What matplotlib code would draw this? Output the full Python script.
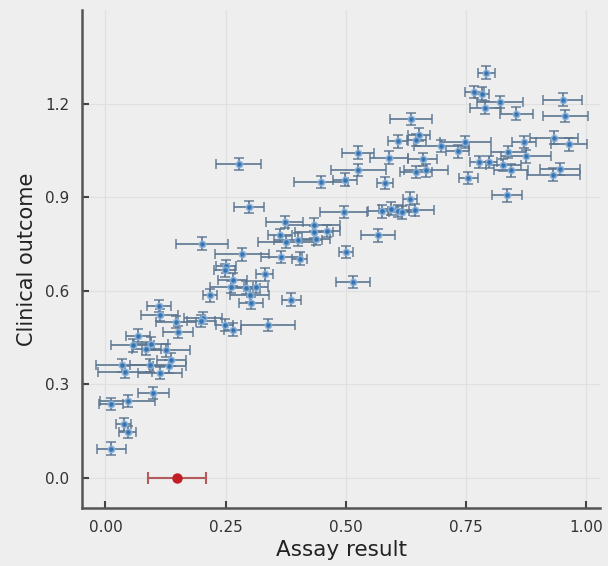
import matplotlib.pyplot as plt

# assay result (x), clinical outcome (y), horizontal / vertical uncertainty
assay = [0.792, 0.767, 0.783, 0.821, 0.790, 0.855, 0.951, 0.957, 0.749, 0.934,
         0.964, 0.870, 0.699, 0.733, 0.838, 0.875, 0.778, 0.797, 0.828, 0.843,
         0.946, 0.932, 0.755, 0.835, 0.635, 0.652, 0.647, 0.608, 0.526, 0.590,
         0.660, 0.526, 0.646, 0.667, 0.499, 0.449, 0.581, 0.633, 0.496, 0.576,
         0.595, 0.609, 0.617, 0.644, 0.567, 0.500, 0.299, 0.277, 0.373, 0.433,
         0.460, 0.434, 0.363, 0.401, 0.438, 0.375, 0.200, 0.284, 0.366, 0.404,
         0.331, 0.251, 0.248, 0.265, 0.292, 0.314, 0.262, 0.300, 0.303, 0.387,
         0.515, 0.217, 0.111, 0.113, 0.147, 0.203, 0.199, 0.248, 0.265, 0.338,
         0.151, 0.067, 0.057, 0.085, 0.095, 0.126, 0.137, 0.035, 0.040, 0.092,
         0.133, 0.113, 0.100, 0.012, 0.046, 0.038, 0.046, 0.012]
outcome = [1.300, 1.238, 1.232, 1.205, 1.187, 1.168, 1.213, 1.160, 1.077, 1.091,
           1.069, 1.077, 1.064, 1.047, 1.045, 1.031, 1.013, 1.013, 1.004, 0.986,
           0.991, 0.972, 0.961, 0.906, 1.150, 1.101, 1.084, 1.079, 1.043, 1.027,
           1.021, 0.988, 0.980, 0.986, 0.956, 0.948, 0.945, 0.895, 0.852, 0.854,
           0.863, 0.855, 0.851, 0.858, 0.777, 0.724, 0.868, 1.007, 0.820, 0.812,
           0.791, 0.788, 0.777, 0.764, 0.767, 0.756, 0.751, 0.716, 0.708, 0.703,
           0.652, 0.678, 0.665, 0.635, 0.610, 0.612, 0.612, 0.585, 0.560, 0.571,
           0.628, 0.585, 0.550, 0.521, 0.499, 0.513, 0.502, 0.489, 0.475, 0.489,
           0.467, 0.456, 0.424, 0.414, 0.430, 0.408, 0.379, 0.360, 0.339, 0.360,
           0.357, 0.336, 0.272, 0.237, 0.245, 0.171, 0.146, 0.093]
assay_err = [0.018, 0.020, 0.015, 0.048, 0.032, 0.034, 0.040, 0.046, 0.054, 0.050,
             0.037, 0.025, 0.057, 0.024, 0.036, 0.052, 0.020, 0.018, 0.037, 0.035,
             0.042, 0.056, 0.019, 0.031, 0.044, 0.023, 0.020, 0.021, 0.033, 0.040,
             0.030, 0.057, 0.034, 0.046, 0.025, 0.056, 0.017, 0.015, 0.049, 0.030,
             0.025, 0.022, 0.028, 0.040, 0.036, 0.015, 0.031, 0.047, 0.038, 0.054,
             0.028, 0.040, 0.025, 0.050, 0.030, 0.058, 0.054, 0.057, 0.042, 0.015,
             0.018, 0.020, 0.022, 0.030, 0.030, 0.025, 0.045, 0.040, 0.025, 0.020,
             0.035, 0.015, 0.025, 0.038, 0.042, 0.040, 0.030, 0.018, 0.018, 0.056,
             0.032, 0.025, 0.045, 0.030, 0.035, 0.050, 0.030, 0.055, 0.056, 0.040,
             0.035, 0.046, 0.033, 0.025, 0.058, 0.015, 0.018, 0.030]
outcome_err = [0.020, 0.020, 0.020, 0.020, 0.020, 0.020, 0.020, 0.020, 0.020, 0.020,
               0.020, 0.020, 0.020, 0.020, 0.020, 0.020, 0.020, 0.020, 0.020, 0.020,
               0.020, 0.020, 0.020, 0.020, 0.020, 0.020, 0.020, 0.020, 0.020, 0.020,
               0.020, 0.020, 0.020, 0.020, 0.020, 0.020, 0.020, 0.020, 0.020, 0.020,
               0.020, 0.020, 0.020, 0.020, 0.020, 0.020, 0.020, 0.020, 0.020, 0.020,
               0.020, 0.020, 0.020, 0.020, 0.020, 0.020, 0.020, 0.020, 0.020, 0.020,
               0.020, 0.020, 0.020, 0.020, 0.020, 0.020, 0.020, 0.020, 0.020, 0.020,
               0.020, 0.020, 0.020, 0.020, 0.020, 0.020, 0.020, 0.020, 0.020, 0.020,
               0.020, 0.020, 0.020, 0.020, 0.020, 0.020, 0.020, 0.020, 0.020, 0.020,
               0.020, 0.020, 0.020, 0.020, 0.020, 0.020, 0.020, 0.020]

# highlighted reference sample
ref_assay = [0.149]
ref_outcome = [0.0]
ref_err = [0.061]

xticks = [0.0, 0.25, 0.5, 0.75, 1.0]
xticklabels = ['0.00', '0.25', '0.50', '0.75', '1.00']
yticks = [0.0, 0.3, 0.6, 0.9, 1.2]
yticklabels = ['0.0', '0.3', '0.6', '0.9', '1.2']

bg = '#eeeeee'
fig = plt.figure(figsize=(6.08, 5.66), dpi=100, facecolor=bg)
ax = fig.add_axes([0.135, 0.1025, 0.852, 0.8795], facecolor=bg)

ax.errorbar(assay, outcome, xerr=assay_err, yerr=outcome_err, fmt='o',
            ms=4.5, mfc='#2f73b5', mec='#8db4dc', mew=1.2,
            ecolor='#5a7590', elinewidth=1.4, capsize=3.5, capthick=1.4,
            alpha=0.85, zorder=3)
ax.errorbar(ref_assay, ref_outcome, xerr=ref_err, fmt='o',
            ms=6.5, mfc='#c01f25', mec='#c01f25',
            ecolor='#b35a5e', elinewidth=1.5, capsize=4.5, capthick=1.5,
            zorder=4)

ax.set_xlim(-0.0485, 1.029)
ax.set_ylim(-0.0975, 1.50)
ax.set_xticks(xticks)
ax.set_xticklabels(xticklabels)
ax.set_yticks(yticks)
ax.set_yticklabels(yticklabels)

ax.grid(True, color='#e0e0e0', linewidth=0.9)
ax.set_axisbelow(True)
for s in ['top', 'right']:
    ax.spines[s].set_visible(False)
for s in ['left', 'bottom']:
    ax.spines[s].set_color('#555555')
    ax.spines[s].set_linewidth(1.8)
ax.tick_params(direction='in', length=5, width=1.5, color='#444444',
               labelsize=11, labelcolor='#333333', pad=9)

ax.set_xlabel('Assay result', fontsize=15.5, color='#222222', labelpad=3)
ax.set_ylabel('Clinical outcome', fontsize=15, color='#222222', labelpad=6)

fig.savefig('out.png', dpi=100, facecolor=bg)
